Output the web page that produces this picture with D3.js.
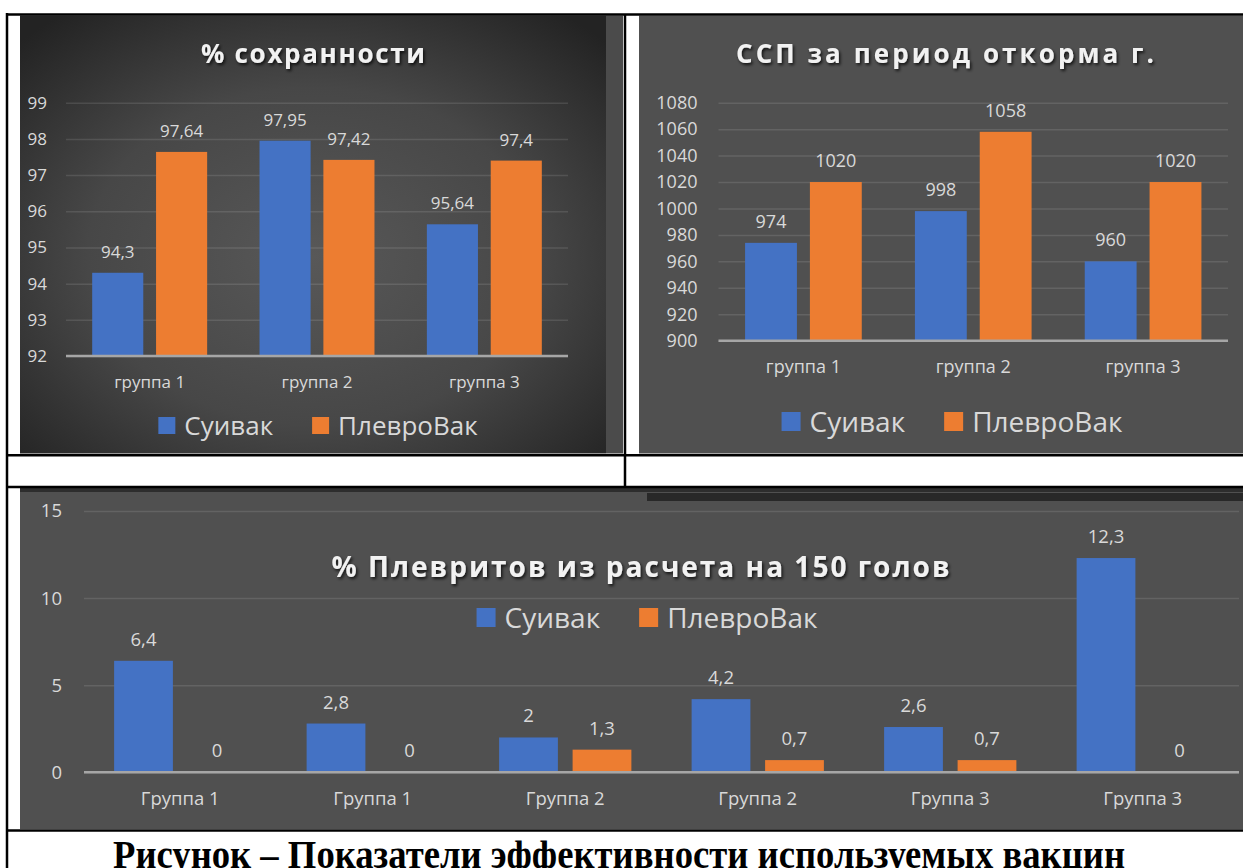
<!DOCTYPE html>
<meta charset="utf-8">
<script src="https://cdn.jsdelivr.net/npm/d3@7"></script>
<style>
	body{margin:0;background:#fff;}
	text{font-family:"Open Sans",sans-serif;}
</style>
<div id="fig"></div>
<script>
// values
var seriesNames = ["Суивак","ПлевроВак"]
var seriesColors = ["#4472C4","#ED7D31"]

var survGroups = ["группа 1","группа 2","группа 3"]
var survSuivak = [94.3, 97.95, 95.64]
var survPlevro = [97.64, 97.42, 97.4]
var survTicks = [92,93,94,95,96,97,98,99]

var sspGroups = ["группа 1","группа 2","группа 3"]
var sspSuivak = [974, 998, 960]
var sspPlevro = [1020, 1058, 1020]
var sspTicks = [900,920,940,960,980,1000,1020,1040,1060,1080]

var plGroups = ["Группа 1","Группа 1","Группа 2","Группа 2","Группа 3","Группа 3"]
var plSuivak = [6.4, 2.8, 2, 4.2, 2.6, 12.3]
var plPlevro = [0, 0, 1.3, 0.7, 0.7, 0]
var plTicks = [0,5,10,15]

var width = 1243
var height = 868

var svg = d3.select("#fig").append("svg")
	.attr("width",width)
	.attr("height",height)

var defs = svg.append("defs")
var rg = defs.append("radialGradient").attr("id","bg1")
	.attr("cx","50%").attr("cy","55%").attr("r","70%")
rg.append("stop").attr("offset","0%").attr("stop-color","#585858")
rg.append("stop").attr("offset","55%").attr("stop-color","#474747")
rg.append("stop").attr("offset","100%").attr("stop-color","#232323")

var sh = defs.append("filter").attr("id","shadow")
	.attr("x","-10%").attr("y","-30%").attr("width","120%").attr("height","180%")
sh.append("feDropShadow").attr("dx",1.5).attr("dy",2).attr("stdDeviation",1.5)
	.attr("flood-color","#000").attr("flood-opacity",0.75)

svg.append("rect").attr("width",width).attr("height",height).attr("fill","#fff")

// chart backgrounds
svg.append("rect").attr("x",20).attr("y",15.5).attr("width",586).attr("height",438).attr("fill","url(#bg1)")
svg.append("rect").attr("x",606).attr("y",15.5).attr("width",17).attr("height",438).attr("fill","#4b4b4b")
svg.append("rect").attr("x",639).attr("y",15.5).attr("width",604).attr("height",438).attr("fill","#505050")
svg.append("rect").attr("x",20).attr("y",488).attr("width",1223).attr("height",341).attr("fill","#505050")
svg.append("rect").attr("x",20).attr("y",488).attr("width",1223).attr("height",4).attr("fill","#2d2d2d")
svg.append("rect").attr("x",647).attr("y",493).attr("width",596).attr("height",8).attr("fill","#282828")

function fmt(v){
	return String(v).replace(".",",")
}

function drawBars(cfg){
	var g = svg.append("g")
	var n = cfg.groups.length
	var x0 = d3.scaleBand().domain(d3.range(n)).range([cfg.left,cfg.right])
	var x1 = d3.scaleBand().domain([0,1]).range([0,x0.bandwidth()])
		.paddingInner(0.2).paddingOuter(0.41)
	var y = d3.scaleLinear().domain(d3.extent(cfg.ticks)).range([cfg.bottom,cfg.top])

	// grid + y labels
	var ya = g.append("g").attr("transform","translate("+cfg.left+",0)")
		.call(d3.axisLeft(y).tickValues(cfg.ticks).tickFormat(fmt)
			.tickSize(-(cfg.right-cfg.left)).tickPadding(cfg.pad))
	ya.select(".domain").remove()
	ya.selectAll("line").attr("stroke","#ffffff").attr("stroke-opacity",0.11).attr("stroke-width",1.5)
	ya.selectAll("text").attr("fill","#d9d9d9").style("font-size",cfg.fs+"px")
		.style("font-family","'Open Sans'")

	var data = [cfg.a,cfg.b]
	data.forEach(function(vals,s){
		g.append("g").selectAll("rect")
			.data(vals)
			.enter()
			.append("rect")
			.attr("x",function(d,i){return x0(i)+x1(s)})
			.attr("width",x1.bandwidth())
			.attr("y",function(d){return y(d)})
			.attr("height",function(d){return cfg.bottom-y(d)})
			.attr("fill",seriesColors[s])
		g.append("g").selectAll("text")
			.data(vals)
			.enter()
			.append("text")
			.attr("x",function(d,i){return x0(i)+x1(s)+x1.bandwidth()/2})
			.attr("y",function(d){return y(d)-15})
			.attr("text-anchor","middle")
			.attr("fill","#d9d9d9")
			.style("font-size",cfg.fs+"px")
			.text(function(d){return fmt(d)})
	})

	// baseline
	g.append("line").attr("x1",cfg.left).attr("x2",cfg.right)
		.attr("y1",cfg.bottom).attr("y2",cfg.bottom)
		.attr("stroke","#a6a6a6").attr("stroke-width",2.5)

	var xa = g.append("g").attr("transform","translate(0,"+cfg.bottom+")")
		.call(d3.axisBottom(x0).tickSize(0).tickFormat(function(i){return cfg.groups[i]}))
	xa.select(".domain").remove()
	xa.selectAll("text").attr("dy",null).attr("y",cfg.xlab)
		.attr("fill","#d9d9d9").style("font-size",cfg.fs+"px")
		.style("font-family","'Open Sans'")

	// title
	svg.append("text")
		.attr("x",cfg.tx).attr("y",cfg.ty)
		.attr("textLength",cfg.tw).attr("lengthAdjust","spacing")
		.attr("fill","#f2f2f2")
		.attr("filter","url(#shadow)")
		.style("font-size",cfg.tfs+"px")
		.style("font-weight","bold")
		.text(cfg.title)

	drawLegend(cfg.lx,cfg.ly,cfg.lfs,cfg.sq)
}

function drawLegend(cx,base,fs,sq){
	var lg = svg.append("g")
	var items = []
	seriesNames.forEach(function(name,i){
		var t = lg.append("text").attr("y",base).attr("fill","#d9d9d9")
			.style("font-size",fs+"px").text(name)
		items.push({t:t,w:t.node().getComputedTextLength(),c:seriesColors[i]})
	})
	var gapIn = 9, gapOut = 39
	var total = sq*2+gapIn*2+items[0].w+items[1].w+gapOut
	var x = cx-total/2
	items.forEach(function(it){
		lg.append("rect").attr("x",x).attr("y",base-sq-1).attr("width",sq).attr("height",sq).attr("fill",it.c)
		x += sq+gapIn
		it.t.attr("x",x)
		x += it.w+gapOut
	})
}

drawBars({groups:survGroups,a:survSuivak,b:survPlevro,ticks:survTicks,
	left:66,right:568,top:102.7,bottom:356,pad:19,fs:17,xlab:32,
	title:"% сохранности",tx:201,ty:63,tw:224,tfs:26,
	lx:318,ly:435,lfs:26,sq:17})

drawBars({groups:sspGroups,a:sspSuivak,b:sspPlevro,ticks:sspTicks,
	left:718.5,right:1228,top:102.7,bottom:340.7,pad:21,fs:18,xlab:32,
	title:"ССП за период откорма г.",tx:736,ty:63,tw:418,tfs:26,
	lx:952,ly:432,lfs:28,sq:19})

drawBars({groups:plGroups,a:plSuivak,b:plPlevro,ticks:plTicks,
	left:84,right:1239,top:511,bottom:772.3,pad:22,fs:18.5,xlab:33,
	title:"% Плевритов из расчета на 150 голов",tx:331.5,ty:577,tw:618,tfs:28,
	lx:647,ly:628,lfs:28,sq:19})

// table rules
var rules = [
	[6,14.5,1243,14.5],
	[7,13,7,868],
	[625,14,625,488],
	[6,455.3,1243,455.3],
	[6,487,1243,487],
	[6,830.5,1243,830.5]
]
svg.append("g").selectAll("line")
	.data(rules)
	.enter()
	.append("line")
	.attr("x1",function(d){return d[0]})
	.attr("y1",function(d){return d[1]})
	.attr("x2",function(d){return d[2]})
	.attr("y2",function(d){return d[3]})
	.attr("stroke","#000")
	.attr("stroke-width",2.5)

// caption (cut by the bottom edge, as in the source)
svg.append("text")
	.attr("x",113).attr("y",868)
	.attr("textLength",1012).attr("lengthAdjust","spacingAndGlyphs")
	.style("font-family","'Liberation Serif',serif")
	.style("font-weight","bold")
	.style("font-size","40px")
	.attr("fill","#000")
	.text("Рисунок – Показатели эффективности используемых вакцин")
</script>
